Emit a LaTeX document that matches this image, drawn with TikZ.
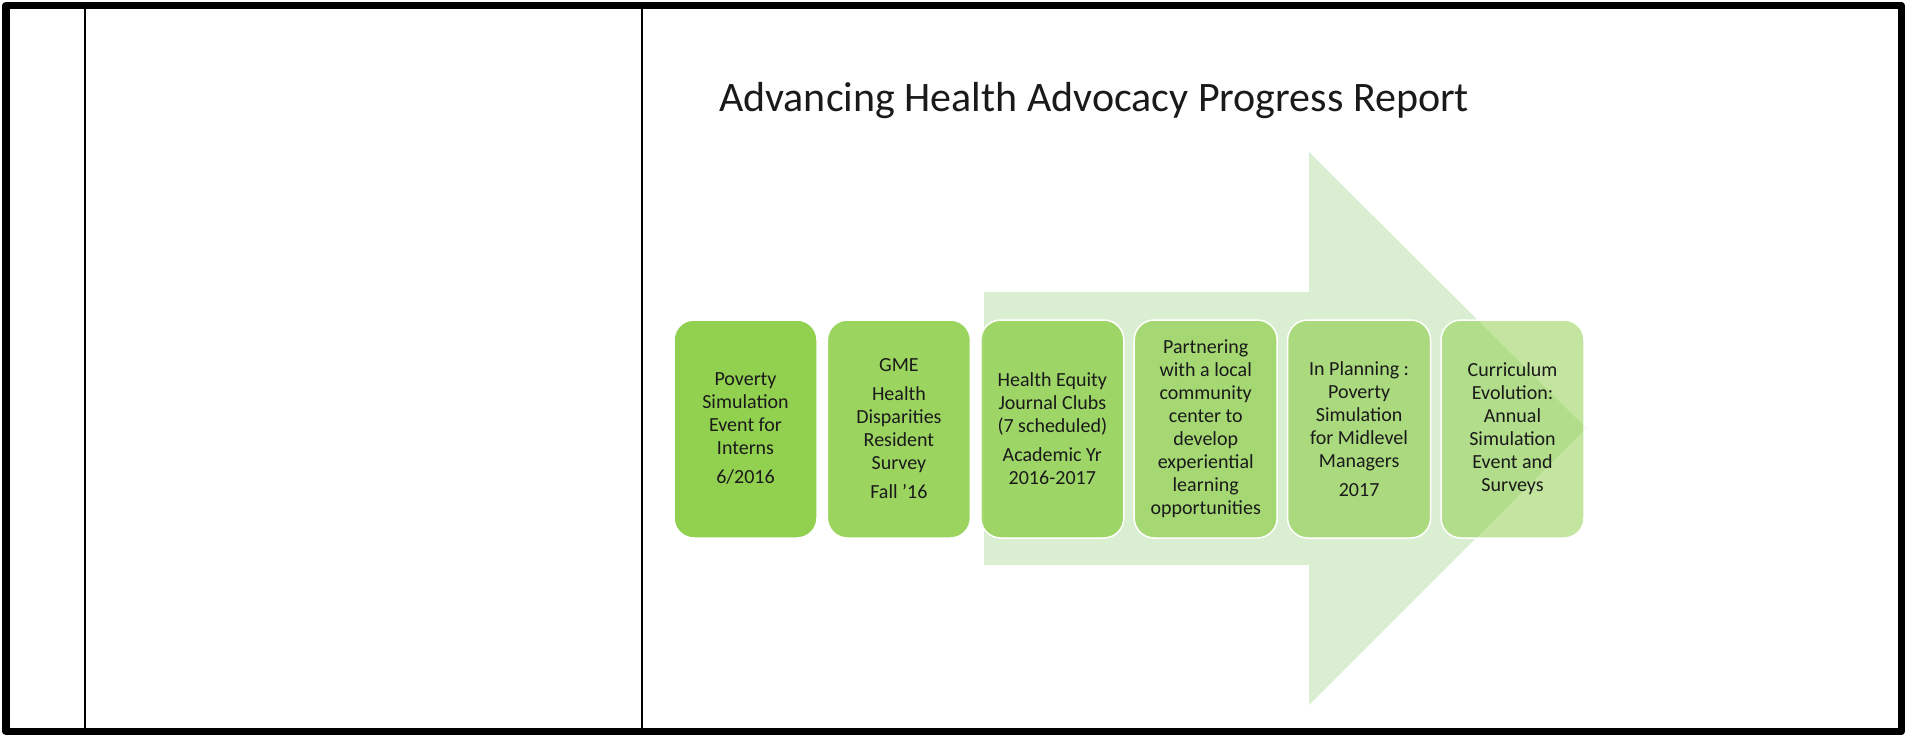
\documentclass[tikz,border=0pt]{standalone}
\usepackage{fontspec}
\setmainfont{Carlito}
\definecolor{stagegreen}{RGB}{146,208,80}
\definecolor{arrowgreen}{RGB}{218,238,210}
\definecolor{inkgray}{RGB}{26,26,26}

\begin{document}
\begin{tikzpicture}[x=1pt,y=-1pt,line join=round,
    stage/.style={rounded corners=20pt,fill=stagegreen,draw=white,line width=1.5pt,
        minimum width=143pt,minimum height=218pt,inner sep=0pt,align=center,
        text=inkgray,text opacity=1,font=\fontsize{20}{23}\selectfont}]
    \useasboundingbox (0,0) rectangle (1905,735);
    \path
    coordinate (tl) at (5.75,5.75)
    coordinate (br) at (1901.25,731.25);
    \draw[line width=7.5pt] (tl) rectangle (br);
    \draw[line width=2.2pt]
    \foreach \x in {85, 642}
    {(\x,5) -- (\x,731)};
    \node[anchor=base,text=inkgray,font=\fontsize{42}{50}\selectfont] (title) at (1094,112)
    {Advancing Health Advocacy Progress Report};
    \fill[arrowgreen] (984,292) -- (1309,292) -- (1309,152) -- (1586,428)
    -- (1309,705) -- (1309,565) -- (984,565) -- cycle;
    \path
    \foreach \i/\op/\txt in {
    1/1/{Poverty\\ Simulation\\ Event for\\ Interns\\[6pt] 6/2016},
    2/.91/{GME\\[6pt] Health\\ Disparities\\ Resident\\ Survey\\[6pt] Fall ’16},
    3/.82/{Health Equity\\ Journal Clubs\\ (7 scheduled)\\[6pt] Academic Yr\\ 2016-2017},
    4/.73/{Partnering\\ with a local\\ community\\ center to\\ develop\\ experiential\\ learning\\ opportunities},
    5/.64/{In Planning :\\ Poverty\\ Simulation\\ for Midlevel\\ Managers\\[6pt] 2017},
    6/.55/{Curriculum\\ Evolution:\\ Annual\\ Simulation\\ Event and\\ Surveys}}
    {node[stage,fill opacity=\op] (box\i) at (745.5+153.4*\i-153.4,429) {\txt}};
\end{tikzpicture}
\end{document}
